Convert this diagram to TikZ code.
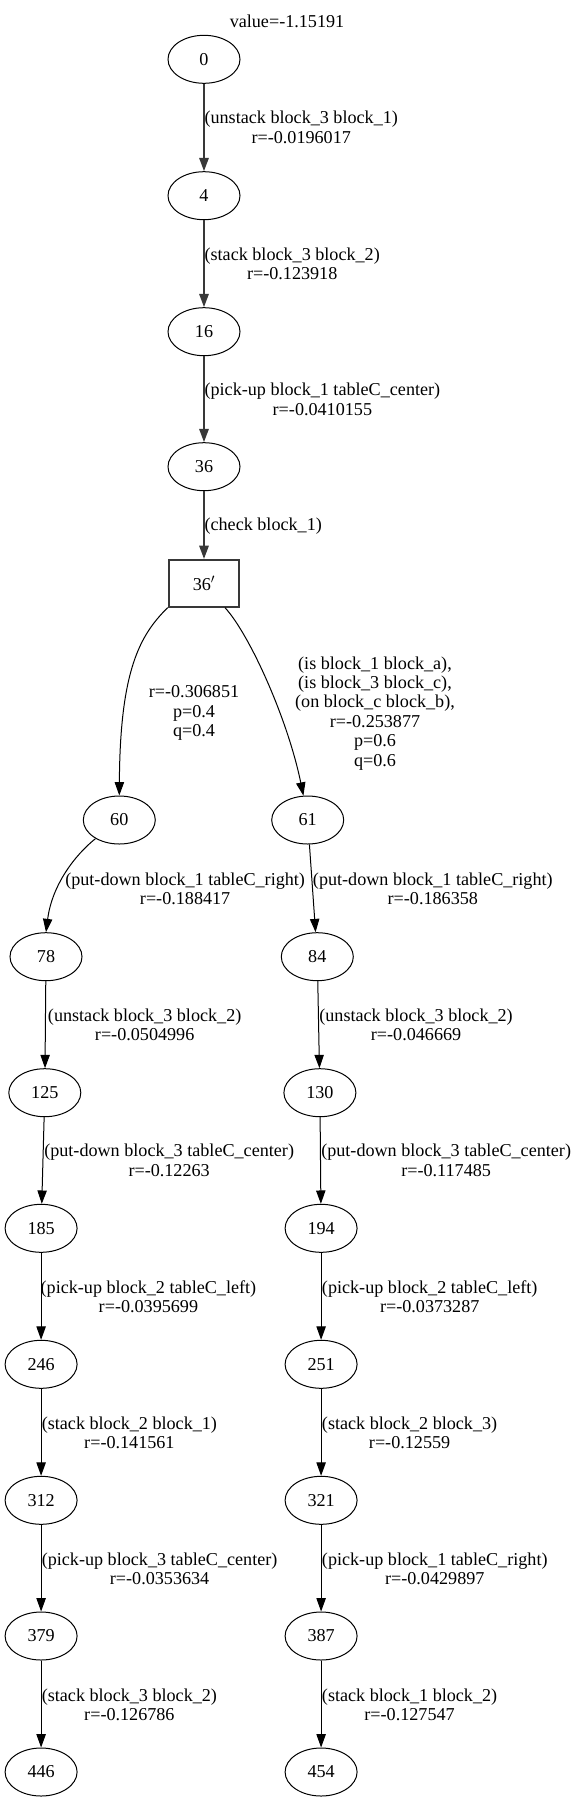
\documentclass[tikz,border=0pt]{standalone}
\usepackage{fontspec}
\setmainfont{Liberation Serif}
\usetikzlibrary{arrows.meta,shapes.geometric}
\newcommand\gvfont{\fontsize{13.6pt}{14.6pt}\selectfont}
\begin{document}
\begin{tikzpicture}[x=0.75pt,y=-0.75pt,
  st/.style={ellipse,draw=black,line width=0.75pt,minimum width=54pt,minimum height=36pt,inner sep=0pt,font=\gvfont},
  chk/.style={rectangle,draw=black!78,line width=1.5pt,minimum width=53pt,minimum height=35pt,inner sep=0pt,font=\gvfont},
  lbl/.style={inner sep=0pt,align=center,font=\gvfont},
  thin edge/.style={draw=black,line width=0.75pt,-{Triangle[length=10pt,width=7pt]}},
  thick edge/.style={draw=black!78,line width=1.5pt,-{Triangle[length=10pt,width=7pt]}}]
\useasboundingbox (0,0) rectangle (575,1803);

\node[lbl] (title) at (287,21) {value=-1.15191};

% top chain
\node[st] (n0) at (204,59.3) {0};
\node[st] (n4) at (204,195.7) {4};
\node[st] (n16) at (204,331.7) {16};
\node[st] (n36) at (204,466.7) {36};
\node[chk] (n36p) at (204,583.3) {36$'$};

% left column
\node[st] (n60) at (119.3,820) {60};
\node[st] (n78) at (46,956.7) {78};
\node[st] (n125) at (44.8,1092.7) {125};
\node[st] (n185) at (41.1,1228.3) {185};
\node[st] (n246) at (41.1,1364.3) {246};
\node[st] (n312) at (41.1,1500.3) {312};
\node[st] (n379) at (41.1,1636) {379};
\node[st] (n446) at (41.1,1772) {446};

% right column
\node[st] (n61) at (307.7,820) {61};
\node[st] (n84) at (317.3,956.7) {84};
\node[st] (n130) at (319.9,1092.7) {130};
\node[st] (n194) at (321.1,1228.3) {194};
\node[st] (n251) at (321.1,1364.3) {251};
\node[st] (n321) at (321.1,1500.3) {321};
\node[st] (n387) at (321.1,1636) {387};
\node[st] (n454) at (321.1,1772) {454};

% top edges
\draw[thick edge] (n0) -- (n4);
\draw[thick edge] (n4) -- (n16);
\draw[thick edge] (n16) -- (n36);
\draw[thick edge] (n36) -- (n36p);

% branch edges
\draw[thin edge] (n36p.south west) .. controls (140,635) and (120,670) .. (n60.north);
\draw[thin edge] ([xshift=15.75pt]n36p.south) .. controls (250,635) and (288,720) .. (n61.100);

\draw[thin edge] (n60.218) .. controls (75,855) and (52,885) .. (n78.north);
\draw[thin edge] (n61) -- (n84);
\draw[thin edge] (n78) -- (n125);
\draw[thin edge] (n84) -- (n130);
\draw[thin edge] (n125) -- (n185);
\draw[thin edge] (n130) -- (n194);
\draw[thin edge] (n185) -- (n246);
\draw[thin edge] (n194) -- (n251);
\draw[thin edge] (n246) -- (n312);
\draw[thin edge] (n251) -- (n321);
\draw[thin edge] (n312) -- (n379);
\draw[thin edge] (n321) -- (n387);
\draw[thin edge] (n379) -- (n446);
\draw[thin edge] (n387) -- (n454);

% labels
\node[lbl,anchor=west] (l1) at (204.3,127.5) {(unstack block\_3 block\_1)\\r=-0.0196017};
\node[lbl,anchor=west] (l2) at (204.3,263.7) {(stack block\_3 block\_2)\\r=-0.123918};
\node[lbl,anchor=west] (l3) at (204.3,399.3) {(pick-up block\_1 tableC\_center)\\r=-0.0410155};
\node[lbl,anchor=west] (l4) at (204.3,526) {(check block\_1)};
\node[lbl] (l5) at (194,713.3) {r=-0.306851\\p=0.4\\q=0.4};
\node[lbl] (l6) at (375,713.3) {(is block\_1 block\_a),\\(is block\_3 block\_c),\\(on block\_c block\_b),\\r=-0.253877\\p=0.6\\q=0.6};
\node[lbl,anchor=west] (l7) at (65,888.8) {(put-down block\_1 tableC\_right)\\r=-0.188417};
\node[lbl,anchor=west] (l8) at (312.7,888.8) {(put-down block\_1 tableC\_right)\\r=-0.186358};
\node[lbl,anchor=west] (l9) at (47.7,1024.7) {(unstack block\_3 block\_2)\\r=-0.0504996};
\node[lbl,anchor=west] (l10) at (319.1,1024.7) {(unstack block\_3 block\_2)\\r=-0.046669};
\node[lbl,anchor=west] (l11) at (44,1160.3) {(put-down block\_3 tableC\_center)\\r=-0.12263};
\node[lbl,anchor=west] (l12) at (321,1160.3) {(put-down block\_3 tableC\_center)\\r=-0.117485};
\node[lbl,anchor=west] (l13) at (40.4,1296.7) {(pick-up block\_2 tableC\_left)\\r=-0.0395699};
\node[lbl,anchor=west] (l14) at (321.7,1296.7) {(pick-up block\_2 tableC\_left)\\r=-0.0373287};
\node[lbl,anchor=west] (l15) at (41.5,1432.7) {(stack block\_2 block\_1)\\r=-0.141561};
\node[lbl,anchor=west] (l16) at (321.7,1432.7) {(stack block\_2 block\_3)\\r=-0.12559};
\node[lbl,anchor=west] (l17) at (41.5,1568.7) {(pick-up block\_3 tableC\_center)\\r=-0.0353634};
\node[lbl,anchor=west] (l18) at (321.7,1568.7) {(pick-up block\_1 tableC\_right)\\r=-0.0429897};
\node[lbl,anchor=west] (l19) at (41.5,1704.7) {(stack block\_3 block\_2)\\r=-0.126786};
\node[lbl,anchor=west] (l20) at (321.7,1704.7) {(stack block\_1 block\_2)\\r=-0.127547};
\end{tikzpicture}
\end{document}
